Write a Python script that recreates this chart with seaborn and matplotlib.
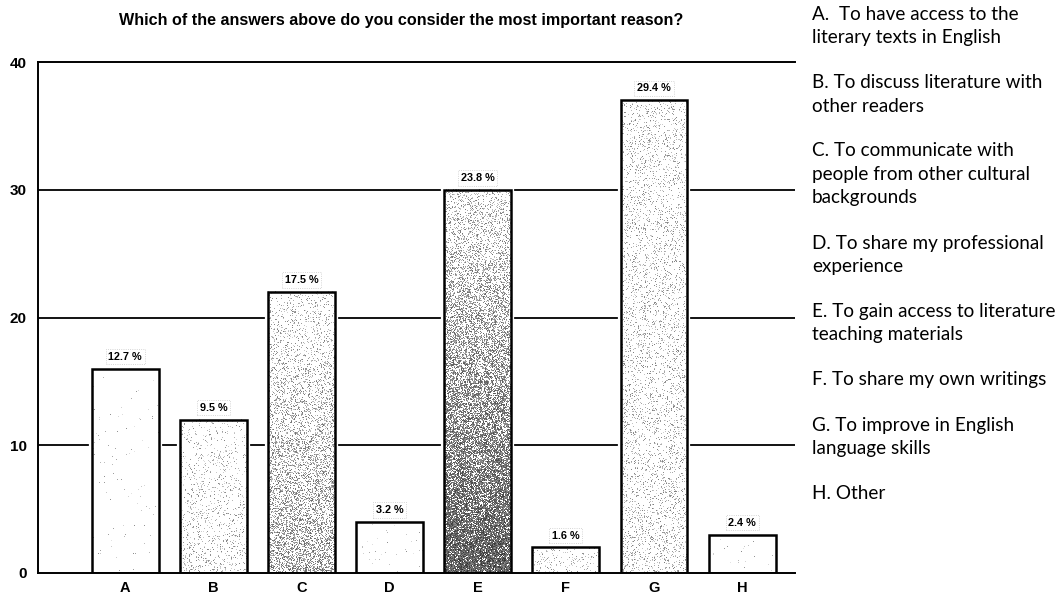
import numpy as np
import pandas as pd
import matplotlib
matplotlib.use("Agg")
import matplotlib.pyplot as plt
from matplotlib.patches import Rectangle
import seaborn as sns

# Survey answers: number of respondents per reason
categories = ["A", "B", "C", "D", "E", "F", "G", "H"]
counts = [16, 12, 22, 4, 30, 2, 37, 3]
y_ticks = [0, 10, 20, 30, 40]

title = "Which of the answers above do you consider the most important reason?"
answer_lines = [
    ["A.  To have access to the", "literary texts in English"],
    ["B. To discuss literature with", "other readers"],
    ["C. To communicate with", "people from other cultural", "backgrounds"],
    ["D. To share my professional", "experience"],
    ["E. To gain access to literature", "teaching materials"],
    ["F. To share my own writings"],
    ["G. To improve in English", "language skills"],
    ["H. Other"],
]

total = sum(counts)
percent_labels = [f"{c / total * 100:.1f} %" for c in counts]

df = pd.DataFrame({"answer": categories, "count": counts})

sns.set_theme(style="white")
plt.rcParams["font.family"] = ["Liberation Sans", "DejaVu Sans"]
plt.rcParams["text.color"] = "black"
plt.rcParams["xtick.color"] = "black"
plt.rcParams["ytick.color"] = "black"

fig = plt.figure(figsize=(10.6, 5.97), dpi=100)
ax = fig.add_axes([38 / 1060, 1 - 573 / 597, (795 - 38) / 1060, (573 - 62) / 597])

sns.barplot(data=df, x="answer", y="count", ax=ax, width=0.76,
            color="white", edgecolor="black", linewidth=1.8, zorder=1)

ax.set_xlabel("")
ax.set_ylabel("")

# horizontal rules behind the bars
for v in y_ticks[1:-1]:
    ax.axhline(v, color="black", lw=1.3, zorder=0.3)

ax.spines["right"].set_visible(False)
for side in ["left", "bottom", "top"]:
    ax.spines[side].set_color("black")
    ax.spines[side].set_linewidth(1.4)
    ax.spines[side].set_zorder(3)

ax.tick_params(axis="y", direction="out", length=6, width=1.2, color="black",
               pad=2, labelsize=11, labelcolor="black")
ax.tick_params(axis="x", direction="out", length=5, width=1.2, color="black",
               pad=1, labelsize=10.5, labelcolor="black")

# stipple shading per bar: (top density, bottom density)
stipple = {
    "A": (0.005, 0.01), "B": (0.07, 0.14), "C": (0.10, 0.45), "D": (0.005, 0.01),
    "E": (0.18, 0.90), "F": (0.08, 0.10), "G": (0.13, 0.15), "H": (0.005, 0.01),
}
rng = np.random.default_rng(7)
px_per_unit = (573 - 62) / 40.0
bars = ax.patches[:len(categories)]
for cat, bar in zip(categories, bars):
    x0, w, h = bar.get_x(), bar.get_width(), bar.get_height()
    # narrow white halo so the rules stop just short of the bar
    ax.add_patch(Rectangle((x0, 0), w, h, facecolor="white", edgecolor="white",
                           lw=4.5, zorder=0.6))
    npx_h = max(int(round(h * px_per_unit)), 2)
    npx_w = int(round(w * (795 - 38) / 8.59))
    top_d, bot_d = stipple[cat]
    dens = np.linspace(top_d, bot_d, npx_h)[:, None] * np.ones((1, npx_w))
    dots = rng.random((npx_h, npx_w)) < dens
    shade = rng.uniform(0.55, 0.9, (npx_h, npx_w)) - 0.4 * dens
    img = np.where(dots, shade, 1.0)
    ax.imshow(img, cmap="gray", vmin=0, vmax=1, extent=(x0, x0 + w, 0, h),
              origin="upper", aspect="auto", interpolation="nearest",
              zorder=0.8, clip_path=bar, clip_on=True)
    bar.set_facecolor("none")

ax.set_xlim(-0.99, 7.6)
ax.set_ylim(0, 40)
ax.set_yticks(y_ticks)
for lab in ax.get_xticklabels() + ax.get_yticklabels():
    lab.set_fontweight("bold")

# percentage labels
for bar, lab in zip(bars, percent_labels):
    ax.annotate(lab, (bar.get_x() + bar.get_width() / 2, bar.get_height()),
                xytext=(0, 5), textcoords="offset points", ha="center", va="bottom",
                fontsize=7.8, fontweight="bold", zorder=4,
                bbox=dict(boxstyle="square,pad=0.25", facecolor="none",
                          edgecolor="#c8c8c8", linestyle=":", lw=0.6))

fig.text(0.378, 1 - 20 / 597, title, ha="center", va="center",
         fontsize=11.6, fontweight="bold")

# answer key on the right
y = 14
for item in answer_lines:
    for line in item:
        fig.text(812 / 1060, 1 - y / 597, line, ha="left", va="center",
                 fontsize=13.6, family=["Lato", "DejaVu Sans"])
        y += 23.5
    y += 21.5

fig.savefig("out.png", dpi=100)
